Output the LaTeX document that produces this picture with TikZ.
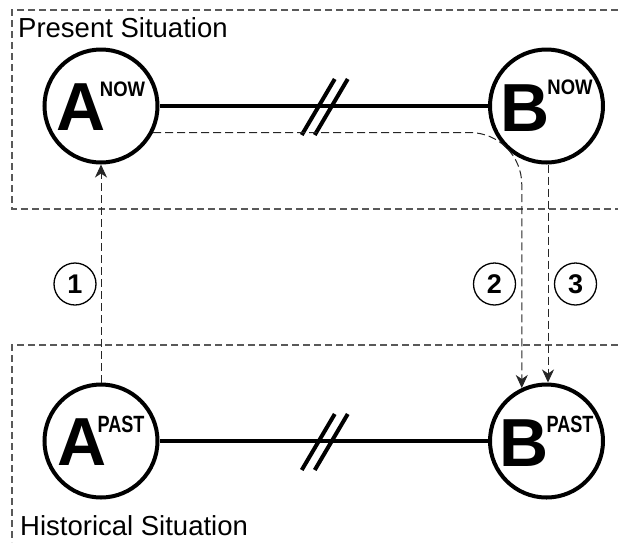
\documentclass[tikz,border=0pt]{standalone}
\usepackage{fontspec}
\setmainfont{Liberation Sans}
\usepackage{graphicx}
\usetikzlibrary{arrows.meta}

% large state letter with a condensed superscript tag
\newcommand{\bigletter}[1]{{\fontsize{68}{68}\selectfont\bfseries #1}}
\newcommand{\suptag}[4]{\raisebox{#2}{\scalebox{#3}[1]{\fontsize{#4}{#4}\selectfont\bfseries #1}}}

\tikzset{
  state/.style={circle, draw, line width=4pt, minimum size=113pt, inner sep=0pt},
  link/.style={line width=4pt},
  frame/.style={draw=black!65, line width=1.2pt, dash pattern=on 7pt off 4pt},
  flow/.style={draw=black!85, line width=1pt, dash pattern=on 8pt off 4pt,
    -{Stealth[length=13pt,width=12pt,inset=4pt]}},
  tag/.style={circle, draw, line width=1.3pt, minimum size=42pt, inner sep=0pt,
    font=\fontsize{27}{27}\selectfont\bfseries},
  title/.style={anchor=base west, inner sep=0pt, font=\fontsize{27.5}{27.5}\selectfont},
}

\begin{document}
\begin{tikzpicture}[x=1pt, y=-1pt]
\useasboundingbox (0,0) rectangle (618,542);

% situation frames (open to the right and bottom)
\draw[frame] (618,10) -- (12,10) -- (12,209) -- (618,209);
\draw[frame] (618,345) -- (12,345) -- (12,542);

\node[title] (present) at (18,37) {Present Situation};
\node[title] (historical) at (20,535) {Historical Situation};

% states
\node[state] (Anow)  at (101,106)   {\bigletter{A}\kern-6pt\suptag{NOW}{34pt}{0.88}{21}};
\node[state] (Bnow)  at (546.5,106) {\bigletter{B}\kern-2pt\suptag{NOW}{37pt}{0.88}{21}};
\node[state] (Apast) at (101,441)   {\bigletter{A}\kern-9pt\suptag{PAST}{33pt}{0.77}{23.5}};
\node[state] (Bpast) at (546.5,441) {\bigletter{B}\kern-2pt\suptag{PAST}{34pt}{0.77}{23.5}};

% relations with break marks
\draw[link] (Anow) -- (Bnow) coordinate[midway] (topgap);
\draw[link] (Apast) -- (Bpast) coordinate[midway] (botgap);
\foreach \g in {topgap, botgap} {
  \draw[link] ([shift={(-22,29)}]\g) -- ([shift={(11,-27)}]\g);
  \draw[link] ([shift={(-9,29)}]\g) -- ([shift={(24,-27)}]\g);
}

% transitions
\draw[flow] (Apast.north) -- (Anow.south);
\draw[flow, rounded corners=52pt] (Anow.-27) -| (Bpast.115);
\draw[flow] ([xshift=1.5pt]Bnow.south) -- ([xshift=1.5pt]Bpast.north);

\node[tag] (t1) at (75,284) {1};
\node[tag] (t2) at (494.5,284) {2};
\node[tag] (t3) at (575.5,284) {3};
\end{tikzpicture}
\end{document}
